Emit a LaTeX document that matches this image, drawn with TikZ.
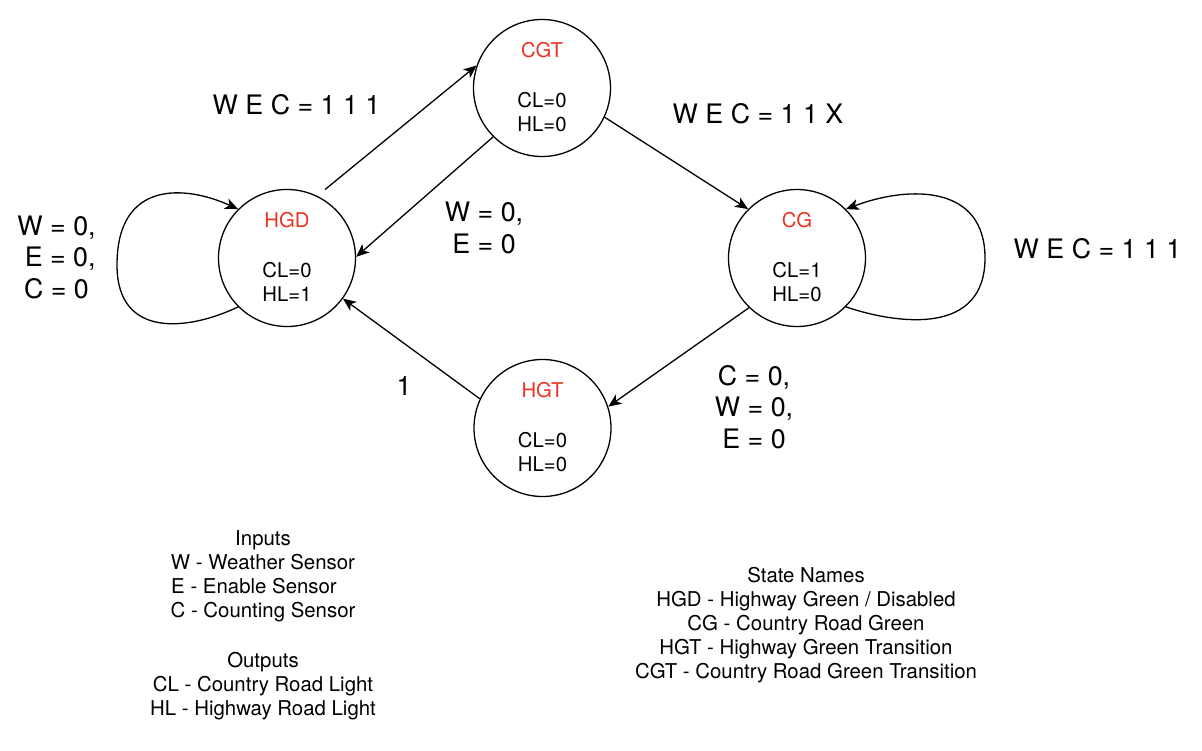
\documentclass[tikz,border=0pt]{standalone}
\usepackage{fontspec}
\setmainfont{TeX Gyre Heros}
\usetikzlibrary{arrows.meta,calc}
\definecolor{stred}{RGB}{234,51,35}
\tikzset{
  state/.style={circle, draw, line width=1.3pt, minimum size=137pt, inner sep=0pt},
  sname/.style={font=\fontsize{20.3}{24}\selectfont, text=stred, anchor=base, inner sep=0pt},
  sout/.style={font=\fontsize{20.3}{24}\selectfont, anchor=base, inner sep=0pt},
  biglbl/.style={font=\fontsize{26.8}{31.5}\selectfont, align=center, anchor=base, inner sep=0pt},
  legend/.style={font=\fontsize{20.4}{24}\selectfont, align=center, anchor=base, inner sep=0pt},
  trans/.style={-{Stealth[length=13pt,width=11pt,inset=3.5pt]}, line width=1.3pt},
}
\begin{document}
\begin{tikzpicture}[x=1pt,y=-1pt]
\useasboundingbox (0,0) rectangle (1202,750);

% states
\node[state] (HGD) at (287,258) {};
\node[state] (CGT) at (542,88) {};
\node[state] (CG)  at (797,258) {};
\node[state] (HGT) at (542.5,428) {};

\node[sname] (HGDn) at ($(HGD)+(0,-30.5)$) {HGD};
\node[sout] (HGDc) at ($(HGD)+(0,19.5)$) {CL=0};
\node[sout] (HGDh) at ($(HGD)+(0,43.5)$) {HL=1};

\node[sname] (CGTn) at ($(CGT)+(0,-30.5)$) {CGT};
\node[sout] (CGTc) at ($(CGT)+(0,19.5)$) {CL=0};
\node[sout] (CGTh) at ($(CGT)+(0,43.5)$) {HL=0};

\node[sname] (CGn) at ($(CG)+(0,-30.5)$) {CG};
\node[sout] (CGc) at ($(CG)+(0,19.5)$) {CL=1};
\node[sout] (CGh) at ($(CG)+(0,43.5)$) {HL=0};

\node[sname] (HGTn) at ($(HGT)+(0,-30.5)$) {HGT};
\node[sout] (HGTc) at ($(HGT)+(0,19.5)$) {CL=0};
\node[sout] (HGTh) at ($(HGT)+(0,43.5)$) {HL=0};

% transitions
\draw[trans, shorten <=10pt] (HGD.64) -- (CGT.161);
\draw[trans] (CGT.225) -- (HGD.1);
\draw[trans] (CGT.-25) -- (CG.135);
\draw[trans] (CG.226) -- (HGT.18);
\draw[trans] (HGT.155) -- (HGD.-36);
\draw[trans] (HGD.225) .. controls (190,330) and (117,340) .. (117,265)
                       .. controls (117,180) and (185,185) .. (HGD.135);
\draw[trans] (CG.-45) .. controls (900,325) and (985,335) .. (985,258)
                      .. controls (985,185) and (910,185) .. (CG.45);

% transition labels (anchor base = baseline of last line)
\node[biglbl] (l1) at (296.5,114) {W E C = 1 1 1};
\node[biglbl] (l2) at (758,123) {W E C = 1 1 X};
\node[biglbl] (l3) at (1097.5,258) {W E C = 1 1 1};
\node[biglbl] (l4) at (404,395) {1};
\node[biglbl] (l5) at (56.5,298) {W = 0,\\\rule{7.4pt}{0pt}E = 0,\\C = 0};
\node[biglbl] (l6) at (484,253) {W = 0,\\E = 0};
\node[biglbl] (l7) at (754,448) {C = 0,\\W = 0,\\E = 0};

% legends
\node[legend] (inputs) at (263,617) {Inputs\\W - Weather Sensor\\E - Enable Sensor\rule{18pt}{0pt}\\C - Counting Sensor};
\node[legend] (outputs) at (263,715) {Outputs\\CL - Country Road Light\\HL - Highway Road Light};
\node[legend] (names) at (806,678) {State Names\\HGD - Highway Green / Disabled\\CG - Country Road Green\\HGT - Highway Green Transition\\CGT - Country Road Green Transition};
\end{tikzpicture}
\end{document}
